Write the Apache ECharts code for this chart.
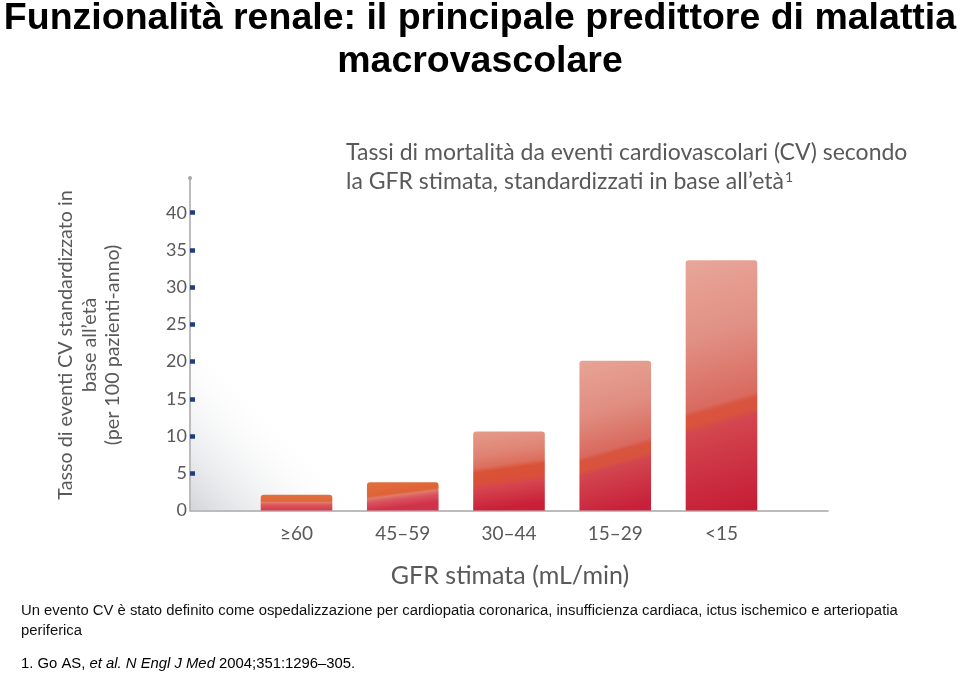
<!DOCTYPE html>
<html><head><meta charset="utf-8">
<script src="https://cdn.jsdelivr.net/npm/echarts@6/dist/echarts.min.js"></script>
<style>html,body{margin:0;padding:0;background:#fff}#c{width:960px;height:677px}</style>
</head><body><div id="c"></div>
<script>
// ---- data ----
const categories = ['≥60', '45–59', '30–44', '15–29', '<15'];
const cvEventRate = [2.1, 3.8, 10.6, 20.1, 33.6];
const yLabelValues = [0, 5, 10, 15, 20, 25, 30, 35, 40];
const yTickValues = [5, 10, 15, 20, 25, 30, 35, 40];
const yMax = 44.66;

// ---- styles (decoration only) ----
const barLooks = [
  {a: 0, stops: [[0, '#e2703e'], [0.4, '#e0673c'], [0.5, '#e27c6c'], [0.62, '#dc5a5e'], [1, '#d33a4e']]},
  {a: 0.05, stops: [[0, '#e3703d'], [0.5, '#de6238'], [0.58, '#e07a68'], [0.72, '#da5560'], [1, '#d0324a']]},
  {a: 0.154, stops: [[0, '#e59b8b'], [0.3, '#df8475'], [0.46, '#dc6e5c'], [0.52, '#da5236'], [0.66, '#d94f3a'], [0.72, '#d5464f'], [1, '#c92038']]},
  {a: 0.58, stops: [[0, '#e7a496'], [0.35, '#e08d80'], [0.6, '#d9695f'], [0.625, '#d9553e'], [0.69, '#d8523f'], [0.72, '#d2464f'], [1, '#c8203a']]},
  {a: 1.0, stops: [[0, '#e8a699'], [0.3, '#e19084'], [0.56, '#d96a60'], [0.58, '#d9553f'], [0.62, '#d9523e'], [0.645, '#d3474f'], [0.85, '#cb2c40'], [1, '#c41c34']]}
];
const GREY = '#595959';
const FONT = 'Lato, "Open Sans", sans-serif';
const ARIAL = '"Liberation Sans", Arial, sans-serif';

const barData = cvEventRate.map((v, i) => ({
  value: v,
  itemStyle: {
    borderRadius: [3, 3, 0, 0],
    color: {
      type: 'linear', x: 0, y: 0, x2: barLooks[i].a, y2: 1,
      colorStops: barLooks[i].stops.map(s => ({offset: s[0], color: s[1]}))
    }
  }
}));

const chart = echarts.init(document.getElementById('c'), null, {renderer: 'canvas'});
chart.setOption({
  animation: false,
  backgroundColor: '#fff',
  grid: [
    {left: 190, width: 638, top: 178, height: 332.5},
    {left: 243.4, width: 531.2, top: 178, height: 332.5}
  ],
  xAxis: [
    {gridIndex: 0, type: 'value', min: 0, max: 1,
     axisLine: {show: true, lineStyle: {color: '#a6a6a6', width: 1.5}},
     axisTick: {show: false}, axisLabel: {show: false}, splitLine: {show: false}},
    {gridIndex: 1, type: 'category', data: categories,
     axisLine: {show: false}, axisTick: {show: false},
     axisLabel: {color: GREY, fontSize: 19, margin: 14, fontFamily: FONT}}
  ],
  yAxis: [
    {gridIndex: 0, type: 'value', min: 0, max: yMax,
     axisLine: {show: true, symbol: ['none', 'circle'], symbolSize: [4, 4], lineStyle: {color: '#a6a6a6', width: 1.5}},
     axisTick: {show: true, inside: true, length: 5, customValues: yTickValues, lineStyle: {color: '#1f3e7c', width: 4.5}},
     axisLabel: {customValues: yLabelValues, color: GREY, fontSize: 18, margin: 3, fontFamily: FONT},
     splitLine: {show: false}},
    {gridIndex: 1, type: 'value', min: 0, max: yMax, show: false}
  ],
  series: [{
    type: 'bar', xAxisIndex: 1, yAxisIndex: 1, barWidth: '67.4%',
    data: barData, z: 3
  }],
  graphic: [
    {type: 'polygon', z: 0, silent: true,
     shape: {points: [[191, 340], [191, 510], [380, 510]]},
     style: {fill: {type: 'linear', x: 0, y: 1, x2: 0.5, y2: 0.45,
       colorStops: [{offset: 0, color: 'rgba(206,209,214,0.9)'}, {offset: 1, color: 'rgba(255,255,255,0)'}]}}},
    {type: 'text', x: 480, y: 19, style: {text: 'Funzionalità renale: il principale predittore di malattia',
      font: 'bold 37.5px ' + ARIAL, fill: '#000', textAlign: 'center', textVerticalAlign: 'middle'}},
    {type: 'text', x: 480, y: 62, style: {text: 'macrovascolare',
      font: 'bold 37.5px ' + ARIAL, fill: '#000', textAlign: 'center', textVerticalAlign: 'middle'}},
    {type: 'text', x: 346, y: 153, style: {text: 'Tassi di mortalità da eventi cardiovascolari (CV) secondo',
      font: '23px ' + FONT, fill: GREY, textAlign: 'left', textVerticalAlign: 'middle'}},
    {type: 'text', x: 346, y: 182, style: {text: '{a|la GFR stimata, standardizzati in base all’età}{s|1}',
      fill: GREY, textAlign: 'left', textVerticalAlign: 'middle',
      rich: {a: {fontSize: 23, fontFamily: FONT, color: GREY}, s: {fontSize: 14, fontFamily: FONT, color: GREY, verticalAlign: 'top', padding: [0, 0, 9, 1]}}}},
    {type: 'text', x: 89.5, y: 345, rotation: Math.PI / 2, style: {text: 'Tasso di eventi CV standardizzato in\nbase all’età\n(per 100 pazienti-anno)',
      fontSize: 19.7, fontFamily: FONT, fill: GREY, lineHeight: 23.5, textAlign: 'center', textVerticalAlign: 'middle'}},
    {type: 'text', x: 510, y: 576, style: {text: 'GFR stimata (mL/min)',
      fontSize: 25, fontFamily: FONT, fill: GREY, textAlign: 'center', textVerticalAlign: 'middle'}},
    {type: 'text', x: 21, y: 611, style: {text: 'Un evento CV è stato definito come ospedalizzazione per cardiopatia coronarica, insufficienza cardiaca, ictus ischemico e arteriopatia',
      font: '14.85px ' + ARIAL, fill: '#111', textAlign: 'left', textVerticalAlign: 'middle'}},
    {type: 'text', x: 21, y: 631, style: {text: 'periferica',
      font: '14.85px ' + ARIAL, fill: '#111', textAlign: 'left', textVerticalAlign: 'middle'}},
    {type: 'text', x: 21, y: 664, style: {text: '{n|1. Go AS, }{i|et al. N Engl J Med}{n| 2004;351:1296–305.}',
      textAlign: 'left', textVerticalAlign: 'middle',
      rich: {n: {fontSize: 14.85, fontFamily: ARIAL, color: '#111'},
             i: {fontSize: 14.85, fontStyle: 'italic', fontFamily: ARIAL, color: '#111'}}}}
  ]
});
</script>
</body></html>
